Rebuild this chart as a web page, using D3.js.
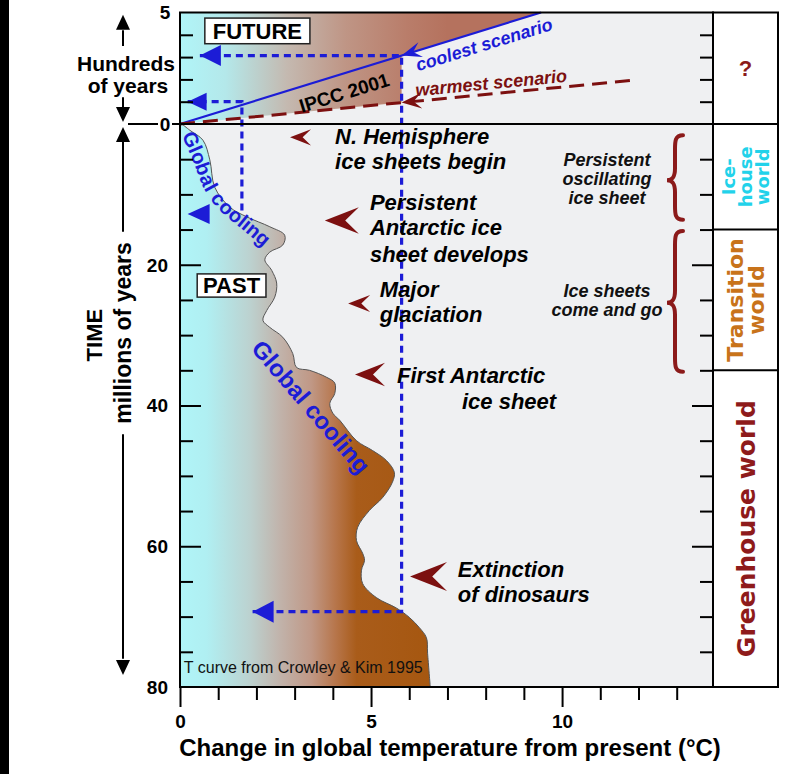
<!DOCTYPE html>
<html>
<head>
<meta charset="utf-8">
<script src="https://cdn.jsdelivr.net/npm/d3@7"></script>
<style>
body { margin: 0; background: #fff; }
svg { display: block; }
</style>
</head>
<body>
<svg id="chart" width="787" height="774"></svg>
<script>
// temperature curve (Crowley & Kim 1995), age in My vs change in deg C
var pastAge = [0, 0.9, 2.3, 5.1, 9.0, 11.8, 13.2, 14.6, 15.8, 17.2, 18.2, 19.3, 20.8, 22.6, 24.6, 26.5, 27.9, 28.9, 30.3, 32.6, 34.6, 35.0, 36.0, 36.8, 38.3, 39.7, 41.1, 42.1, 45.0, 46.4, 47.8, 49.5, 50.9, 53.1, 54.9, 57.3, 59.2, 61.0, 62.0, 63.4, 65.3, 67.3, 68.8, 70.1, 71.6, 73.0, 75.2, 80];
var pastTemp = [0.05, 0.26, 0.6, 0.78, 0.91, 1.3, 1.75, 2.35, 2.74, 2.69, 2.35, 2.22, 2.4, 2.53, 2.48, 2.27, 2.17, 2.35, 2.69, 2.95, 3.05, 3.39, 3.84, 4.05, 4.05, 3.92, 4.0, 4.18, 4.62, 5.04, 5.4, 5.61, 5.56, 5.3, 4.96, 4.65, 4.62, 4.78, 4.83, 4.75, 4.78, 5.14, 5.67, 6.0, 6.27, 6.45, 6.48, 6.55];

// IPCC 2001 scenarios, hundreds of years vs deg C
var coolestYears = [0, 5];
var coolestTemp = [0, 9.45];
var warmestYears = [0, 1.97];
var warmestTemp = [0, 11.9];
var ipccMax = 5.8;

var xTicks = d3.range(0, 14);
var xLabels = [0, 5, 10];
var pastTicks = d3.range(5, 80, 5);
var pastLabels = [20, 40, 60, 80];
var futureTicks = [1, 2, 3, 4];
var futureLabels = [0, 5];

// events (text, temp, age)
var noteText = ["N. Hemisphere", "ice sheets begin", "Persistent", "Antarctic ice", "sheet develops", "Major", "glaciation", "First Antarctic", "ice sheet", "Extinction", "of dinosaurs"];
var noteT = [4.06, 4.06, 4.97, 4.97, 4.97, 5.23, 5.23, 5.68, 7.38, 7.27, 7.27];
var noteAge = [2.84, 6.39, 12.2, 15.8, 19.6, 24.6, 28.1, 36.8, 40.5, 64.4, 67.9];

var chevronT = [2.88, 3.79, 4.4, 4.58, 6.02];
var chevronAge = [1.9, 13.7, 25.5, 35.6, 64.3];
var chevronLen = [21, 34, 22, 30, 37];

var braceTop = [1.6, 15.2];
var braceBottom = [13.6, 35.2];
var braceMid = [8.0, 25.4];
var braceText = [["Persistent", "oscillating", "ice sheet"], ["Ice sheets", "come and go"]];
var braceTextAge = [[6.0, 8.7, 11.3], [24.6, 27.3]];

var worldNames = [["Ice-", "house", "world"], ["Transition", "world"], ["Greenhouse world"]];
var worldStart = [0, 15, 35];
var worldEnd = [15, 35, 80];
var worldColors = ["#22d2ea", "#c8731a", "#8e1b1b"];
var worldSize = [18, 22, 25];

var FONT = "'Liberation Sans', Arial, sans-serif";
var BLUE = "#1c1cd6";
var DRED = "#7c1010";

var svg = d3.select("#chart");

var x = d3.scaleLinear().domain([0, 13.95]).range([180, 713]);
var yPast = d3.scaleLinear().domain([0, 80]).range([124, 687]);
var yFut = d3.scaleLinear().domain([0, 5]).range([124, 12.5]);

var coolAt = d3.scaleLinear().domain(coolestTemp).range(coolestYears);
var warmAt = d3.scaleLinear().domain(warmestTemp).range(warmestYears);

var defs = svg.append("defs");

function gradient(id, stops) {
    var g = defs.append("linearGradient").attr("id", id)
        .attr("gradientUnits", "userSpaceOnUse")
        .attr("x1", x(0)).attr("x2", x(7)).attr("y1", 0).attr("y2", 0);
    stops.forEach(function (s) {
        g.append("stop").attr("offset", s[0]).attr("stop-color", s[1]);
    });
}
gradient("pastGrad", [[0, "#b0f5f8"], [0.1, "#b0eff2"], [0.26, "#bcd2d0"], [0.37, "#c1b4ac"], [0.49, "#c09886"], [0.58, "#b7764c"], [0.66, "#a95c1a"], [1, "#a5560e"]]);
gradient("futGrad", [[0, "#b0f5f8"], [0.17, "#b4e8ea"], [0.4, "#c4b9b0"], [0.62, "#bf9585"], [0.85, "#b97d6a"], [1, "#b5725e"]]);

// black strip on the left edge
svg.append("rect").attr("x", 0).attr("y", 0).attr("width", 9).attr("height", 774).attr("fill", "#000");

// plot background
svg.append("rect")
    .attr("x", x(0)).attr("y", yFut(5))
    .attr("width", x(13.95) - x(0)).attr("height", yPast(80) - yFut(5))
    .attr("fill", "#eff0f2");

// future gradient region
var futPoly = [[0, 0], [ipccMax, warmAt(ipccMax)], [ipccMax, coolAt(ipccMax)], [coolestTemp[1], coolestYears[1]], [0, 5]];
svg.append("path")
    .attr("d", d3.line().x(function (d) { return x(d[0]); }).y(function (d) { return yFut(d[1]); })(futPoly) + "Z")
    .attr("fill", "url(#futGrad)");

// past curve
var pastData = pastAge.map(function (a, i) { return {age: a, t: pastTemp[i]}; });
svg.append("path")
    .datum(pastData)
    .attr("d", d3.area().curve(d3.curveCatmullRom)
        .y(function (d) { return yPast(d.age); })
        .x0(x(0))
        .x1(function (d) { return x(d.t); }))
    .attr("fill", "url(#pastGrad)");
svg.append("path")
    .datum(pastData)
    .attr("d", d3.line().curve(d3.curveCatmullRom)
        .y(function (d) { return yPast(d.age); })
        .x(function (d) { return x(d.t); }))
    .attr("fill", "none").attr("stroke", "#555").attr("stroke-width", 1);

// scenario lines
svg.append("line")
    .attr("x1", x(coolestTemp[0])).attr("y1", yFut(coolestYears[0]))
    .attr("x2", x(coolestTemp[1])).attr("y2", yFut(coolestYears[1]))
    .attr("stroke", BLUE).attr("stroke-width", 2.2);
svg.append("line")
    .attr("x1", x(warmestTemp[0])).attr("y1", yFut(warmestYears[0]))
    .attr("x2", x(warmestTemp[1])).attr("y2", yFut(warmestYears[1]))
    .attr("stroke", DRED).attr("stroke-width", 3).attr("stroke-dasharray", "15,8");

var coolAngle = Math.atan2(yFut(coolestYears[1]) - yFut(0), x(coolestTemp[1]) - x(0)) * 180 / Math.PI;
var warmAngle = Math.atan2(yFut(warmestYears[1]) - yFut(0), x(warmestTemp[1]) - x(0)) * 180 / Math.PI;

function chevron(len) {
    var w = len * 0.78;
    return "M0,0L" + len + "," + (-w / 2) + "L" + (len * 0.6) + ",0L" + len + "," + (w / 2) + "Z";
}
function triangle(len, w) {
    return "M0,0L" + len + "," + (-w / 2) + "L" + len + "," + (w / 2) + "Z";
}

// dotted guide lines
var dotted = svg.append("g").attr("fill", "none").attr("stroke", BLUE)
    .attr("stroke-width", 3.2).attr("stroke-dasharray", "7,5");
var hiY = coolAt(ipccMax);
dotted.append("path").attr("d",
    "M" + x(0.52) + "," + yFut(hiY) + "L" + x(ipccMax) + "," + yFut(hiY) +
    "L" + x(ipccMax) + "," + yPast(69.3) + "L" + x(1.9) + "," + yPast(69.3));
dotted.append("path").attr("d",
    "M" + x(0.2) + "," + yFut(1.0) + "L" + x(1.62) + "," + yFut(1.0) + "L" + x(1.62) + "," + yPast(12.8));

var heads = svg.append("g").attr("fill", BLUE);
heads.append("path").attr("d", triangle(21, 21)).attr("transform", "translate(" + x(0.52) + "," + yFut(hiY) + ")");
heads.append("path").attr("d", triangle(19, 18)).attr("transform", "translate(" + x(0.2) + "," + yFut(1.0) + ")");
heads.append("path").attr("d", triangle(21, 22)).attr("transform", "translate(" + x(1.9) + "," + yPast(69.3) + ")");
heads.append("path").attr("d", triangle(22, 20)).attr("transform", "translate(" + x(0.2) + "," + yPast(12.8) + ")");
heads.append("path").attr("d", chevron(20))
    .attr("transform", "translate(" + x(ipccMax) + "," + yFut(coolAt(ipccMax)) + ") rotate(" + coolAngle + ")");
svg.append("path").attr("d", chevron(20)).attr("fill", DRED)
    .attr("transform", "translate(" + x(ipccMax) + "," + yFut(warmAt(ipccMax)) + ") rotate(" + warmAngle + ")");

// event chevrons
svg.append("g").selectAll("path")
    .data(chevronT)
    .enter().append("path")
    .attr("d", function (d, i) { return chevron(chevronLen[i]); })
    .attr("transform", function (d, i) { return "translate(" + x(d) + "," + yPast(chevronAge[i]) + ")"; })
    .attr("fill", DRED);

// event notes
svg.append("g").selectAll("text")
    .data(noteText)
    .enter().append("text")
    .attr("x", function (d, i) { return x(noteT[i]); })
    .attr("y", function (d, i) { return yPast(noteAge[i]); })
    .attr("font-family", FONT).attr("font-weight", "bold").attr("font-style", "italic")
    .attr("font-size", 22).attr("fill", "#000")
    .text(function (d) { return d; });

// braces
braceTop.forEach(function (t, i) {
    var y0 = yPast(t), y1 = yPast(braceBottom[i]), ym = yPast(braceMid[i]);
    var xb = 683, xt = 667, xm = 675;
    var d = "M" + xb + "," + y0 +
        "C" + xm + "," + y0 + " " + xm + "," + (y0 + 6) + " " + xm + "," + (y0 + 14) +
        "L" + xm + "," + (ym - 12) +
        "C" + xm + "," + (ym - 4) + " " + (xm - 2) + "," + ym + " " + xt + "," + ym +
        "C" + (xm - 2) + "," + ym + " " + xm + "," + (ym + 4) + " " + xm + "," + (ym + 12) +
        "L" + xm + "," + (y1 - 14) +
        "C" + xm + "," + (y1 - 6) + " " + xm + "," + y1 + " " + xb + "," + y1;
    svg.append("path").attr("d", d).attr("fill", "none").attr("stroke", "#8b1a1a")
        .attr("stroke-width", 4).attr("stroke-linecap", "round");
    svg.append("g").selectAll("text")
        .data(braceText[i])
        .enter().append("text")
        .attr("x", 607)
        .attr("y", function (d, j) { return yPast(braceTextAge[i][j]); })
        .attr("text-anchor", "middle")
        .attr("font-family", FONT).attr("font-weight", "bold").attr("font-style", "italic")
        .attr("font-size", 18).attr("fill", "#111")
        .text(function (d) { return d; });
});

// Global cooling labels
var gcPath = [[0.21, 1.2], [0.52, 5.0], [0.79, 8.7], [1.1, 11.2], [1.7, 14.0], [2.5, 17.7]];
defs.append("path").attr("id", "gcPath")
    .attr("d", d3.line().curve(d3.curveCatmullRom)
        .x(function (d) { return x(d[0]); })
        .y(function (d) { return yPast(d[1]); })(gcPath));
svg.append("text")
    .attr("font-family", FONT).attr("font-weight", "bold").attr("font-size", 20).attr("fill", BLUE)
    .attr("dy", "0.35em")
    .append("textPath").attr("href", "#gcPath").text("Global cooling");

svg.append("text")
    .attr("transform", "translate(" + x(3.43) + "," + yPast(40.2) + ") rotate(49.3)")
    .attr("text-anchor", "middle").attr("dy", "0.35em")
    .attr("font-family", FONT).attr("font-weight", "bold").attr("font-size", 24).attr("fill", BLUE)
    .text("Global cooling");

// future labels
svg.append("text")
    .attr("transform", "translate(" + x(4.3) + "," + yFut(1.4) + ") rotate(" + coolAngle + ")")
    .attr("text-anchor", "middle").attr("dy", "0.35em")
    .attr("font-family", FONT).attr("font-weight", "bold").attr("font-size", 19).attr("fill", "#000")
    .text("IPCC 2001");
svg.append("text")
    .attr("transform", "translate(" + x(6.23) + "," + yFut(2.36) + ") rotate(" + coolAngle + ")")
    .attr("font-family", FONT).attr("font-weight", "bold").attr("font-style", "italic")
    .attr("font-size", 18).attr("fill", BLUE)
    .text("coolest scenario");
svg.append("text")
    .attr("transform", "translate(" + x(6.18) + "," + yFut(1.24) + ") rotate(" + warmAngle + ")")
    .attr("font-family", FONT).attr("font-weight", "bold").attr("font-style", "italic")
    .attr("font-size", 18).attr("fill", DRED)
    .text("warmest scenario");

// FUTURE / PAST boxes
function labelBox(x0, x1, y0, y1, label) {
    svg.append("rect").attr("x", x0).attr("y", y0).attr("width", x1 - x0).attr("height", y1 - y0)
        .attr("fill", "#fff").attr("stroke", "#222").attr("stroke-width", 1.5);
    svg.append("text").attr("x", (x0 + x1) / 2).attr("y", (y0 + y1) / 2).attr("dy", "0.36em")
        .attr("text-anchor", "middle").attr("font-family", FONT).attr("font-weight", "bold")
        .attr("font-size", 22).text(label);
}
labelBox(x(0.65), x(3.4), yFut(4.75), yFut(3.6), "FUTURE");
labelBox(x(0.45), x(2.25), yPast(21.3), yPast(24.6), "PAST");

svg.append("text")
    .attr("x", x(0.1)).attr("y", yPast(78.0))
    .attr("font-family", FONT).attr("font-size", 16).attr("fill", "#111")
    .text("T curve from Crowley & Kim 1995");

// frame
svg.append("rect")
    .attr("x", x(0)).attr("y", yFut(5))
    .attr("width", x(13.95) - x(0)).attr("height", yPast(80) - yFut(5))
    .attr("fill", "none").attr("stroke", "#000").attr("stroke-width", 2);
svg.append("line")
    .attr("x1", 128).attr("x2", 778).attr("y1", yPast(0)).attr("y2", yPast(0))
    .attr("stroke", "#000").attr("stroke-width", 2);

// axes
var gx = svg.append("g").attr("transform", "translate(0," + yPast(80) + ")")
    .call(d3.axisBottom(x).tickValues(xTicks).tickSize(13)
        .tickFormat(function (d) { return xLabels.indexOf(d) >= 0 ? d : ""; }));
gx.select(".domain").remove();
gx.selectAll(".tick line").attr("y2", function (d) { return d % 5 === 0 ? 20 : 13; })
    .attr("stroke", "#000").attr("stroke-width", 2);
gx.selectAll(".tick text").attr("y", 28).attr("font-family", FONT).attr("font-weight", "bold")
    .attr("font-size", 19).attr("fill", "#000");

function sideTicks(scale, values, xpos, dir, majorTest) {
    var axis = dir > 0 ? d3.axisRight(scale) : d3.axisLeft(scale);
    var g = svg.append("g").attr("transform", "translate(" + xpos + ",0)")
        .call(axis.tickValues(values).tickFormat(""));
    g.select(".domain").remove();
    g.selectAll(".tick line")
        .attr("x2", function (d) { return dir * (majorTest(d) ? 21 : 13); })
        .attr("stroke", "#000").attr("stroke-width", 2);
}
sideTicks(yPast, pastTicks, x(0), 1, function (d) { return d % 20 === 0; });
sideTicks(yPast, pastTicks, x(13.95), -1, function (d) { return d % 20 === 0; });
sideTicks(yFut, futureTicks, x(0), 1, function () { return false; });
sideTicks(yFut, futureTicks, x(13.95), -1, function () { return false; });

var labelStyle = function (sel) {
    sel.attr("font-family", FONT).attr("font-weight", "bold").attr("font-size", 19).attr("fill", "#000");
};
svg.append("g").selectAll("text").data(pastLabels).enter().append("text")
    .attr("x", 168).attr("y", function (d) { return yPast(d); }).attr("dy", "0.36em")
    .attr("text-anchor", "end").call(labelStyle).text(function (d) { return d; });
svg.append("rect").attr("x", 158).attr("y", yFut(0) - 9).attr("width", 14).attr("height", 18).attr("fill", "#fff");
svg.append("g").selectAll("text").data(futureLabels).enter().append("text")
    .attr("x", 165).attr("y", function (d) { return yFut(d); }).attr("dy", "0.36em")
    .attr("text-anchor", "middle").call(labelStyle).text(function (d) { return d; });

svg.append("text").attr("x", 450).attr("y", 756).attr("text-anchor", "middle")
    .attr("font-family", FONT).attr("font-weight", "bold").attr("font-size", 24)
    .text("Change in global temperature from present (\u00B0C)");

// left axis titles with arrows
var arrowX = 123;
var ax = svg.append("g").attr("stroke", "#000").attr("stroke-width", 2);
ax.append("line").attr("x1", arrowX).attr("x2", arrowX).attr("y1", yFut(4.2)).attr("y2", yFut(3.5));
ax.append("line").attr("x1", arrowX).attr("x2", arrowX).attr("y1", yFut(1.2)).attr("y2", yFut(0.4));
ax.append("line").attr("x1", arrowX).attr("x2", arrowX).attr("y1", yPast(1.5)).attr("y2", yPast(15.3));
ax.append("line").attr("x1", arrowX).attr("x2", arrowX).attr("y1", yPast(44.1)).attr("y2", yPast(76));
var ah = svg.append("g").attr("fill", "#000");
ah.append("path").attr("d", "M0,0L-7,15L7,15Z").attr("transform", "translate(" + arrowX + "," + yFut(4.9) + ")");
ah.append("path").attr("d", "M0,0L-7,-15L7,-15Z").attr("transform", "translate(" + arrowX + "," + (yFut(0) - 2) + ")");
ah.append("path").attr("d", "M0,0L-7,15L7,15Z").attr("transform", "translate(" + arrowX + "," + (yPast(0) + 3) + ")");
ah.append("path").attr("d", "M0,0L-7,-15L7,-15Z").attr("transform", "translate(" + arrowX + "," + yPast(78.3) + ")");

svg.append("text").attr("x", 126).attr("y", yFut(2.7)).attr("dy", "0.36em").attr("text-anchor", "middle")
    .attr("font-family", FONT).attr("font-weight", "bold").attr("font-size", 21).text("Hundreds");
svg.append("text").attr("x", 128).attr("y", yFut(1.75)).attr("dy", "0.36em").attr("text-anchor", "middle")
    .attr("font-family", FONT).attr("font-weight", "bold").attr("font-size", 21).text("of years");
svg.append("text").attr("transform", "translate(94," + yPast(30) + ") rotate(-90)")
    .attr("dy", "0.36em").attr("text-anchor", "middle")
    .attr("font-family", FONT).attr("font-weight", "bold").attr("font-size", 22).text("TIME");
svg.append("text").attr("transform", "translate(" + arrowX + "," + yPast(29.7) + ") rotate(-90)")
    .attr("dy", "0.36em").attr("text-anchor", "middle")
    .attr("font-family", FONT).attr("font-weight", "bold").attr("font-size", 23).text("millions of years");

// right panel
var px0 = x(13.95), px1 = 778, pxm = (px0 + px1) / 2;
svg.append("rect").attr("x", px0).attr("y", yFut(5)).attr("width", px1 - px0).attr("height", yPast(80) - yFut(5))
    .attr("fill", "#fff").attr("stroke", "#000").attr("stroke-width", 2);
svg.append("line").attr("x1", px0).attr("x2", px1).attr("y1", yPast(0)).attr("y2", yPast(0))
    .attr("stroke", "#000").attr("stroke-width", 2);
svg.append("text").attr("x", pxm).attr("y", yFut(2.5)).attr("dy", "0.36em").attr("text-anchor", "middle")
    .attr("font-family", FONT).attr("font-weight", "bold").attr("font-size", 22).attr("fill", "#8b1a1a").text("?");

worldNames.forEach(function (lines, i) {
    if (i > 0) {
        svg.append("line").attr("x1", px0).attr("x2", px1)
            .attr("y1", yPast(worldStart[i])).attr("y2", yPast(worldStart[i]))
            .attr("stroke", "#000").attr("stroke-width", 2);
    }
    var cy = (yPast(worldStart[i]) + yPast(worldEnd[i])) / 2;
    var lh = worldSize[i] * 0.95;
    var t = svg.append("text").attr("transform", "translate(" + pxm + "," + cy + ") rotate(-90)")
        .attr("text-anchor", "middle")
        .attr("font-family", "'DejaVu Sans', sans-serif").attr("font-weight", "bold")
        .attr("font-size", worldSize[i]).attr("fill", worldColors[i]);
    lines.forEach(function (l, j) {
        t.append("tspan").attr("x", 0)
            .attr("y", (j - (lines.length - 1) / 2) * lh)
            .attr("dy", "0.36em").text(l);
    });
});
</script>
</body>
</html>
